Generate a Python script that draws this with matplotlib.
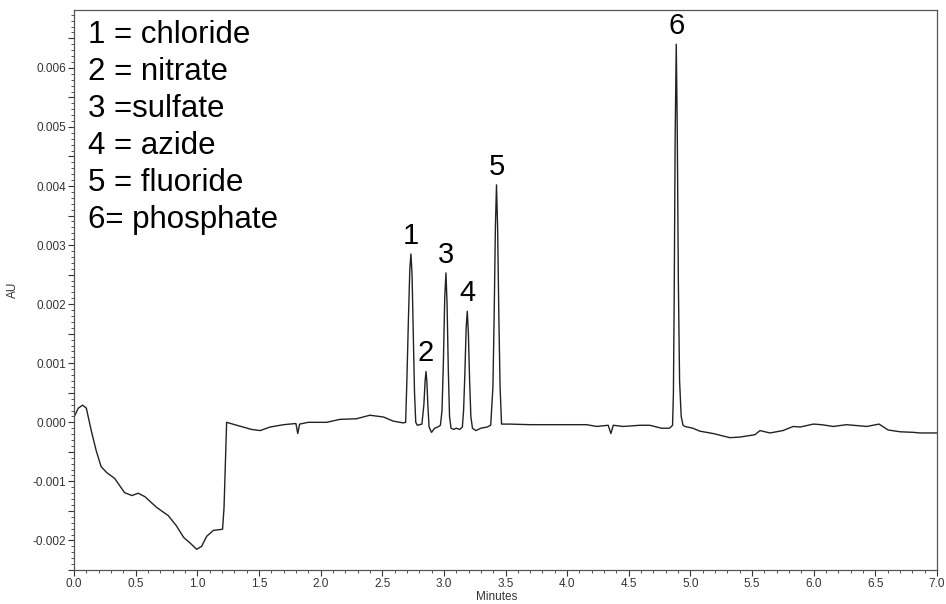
import matplotlib
matplotlib.use("Agg")
import matplotlib.pyplot as plt
from matplotlib.ticker import MultipleLocator, FuncFormatter

plt.rcParams['font.family'] = ['Liberation Sans', 'DejaVu Sans']

# chromatogram trace (minutes, AU)
time_min = [
    0.000, 0.035, 0.070, 0.100, 0.140, 0.180, 0.220, 0.265, 0.330, 0.370,
    0.410, 0.470, 0.520, 0.576, 0.670, 0.765, 0.830, 0.890, 0.940, 0.995,
    1.035, 1.076, 1.130, 1.205, 1.217, 1.238, 1.320, 1.440, 1.510, 1.590,
    1.700, 1.800, 1.815, 1.830, 1.900, 2.050, 2.157, 2.290, 2.400, 2.510,
    2.590, 2.670,
    # peak 1
    2.690, 2.700, 2.712, 2.724, 2.733, 2.742, 2.752, 2.762, 2.772, 2.785,
    # peak 2
    2.822, 2.838, 2.848, 2.855, 2.862, 2.870, 2.880, 2.900, 2.925, 2.950,
    # peak 3
    2.972, 2.985, 2.996, 3.007, 3.017, 3.026, 3.036, 3.046, 3.058, 3.080,
    3.100, 3.130,
    # peak 4
    3.150, 3.160, 3.170, 3.181, 3.190, 3.199, 3.209, 3.219, 3.232, 3.260,
    3.300, 3.350, 3.380,
    # peak 5
    3.398, 3.408, 3.418, 3.427, 3.436, 3.446, 3.456, 3.468,
    3.536, 3.700, 3.968, 4.158, 4.240, 4.333, 4.355, 4.374, 4.455, 4.590,
    4.670, 4.766, 4.830,
    # peak 6
    4.855, 4.862, 4.868, 4.876, 4.885, 4.893, 4.902, 4.912, 4.925, 4.940,
    4.955, 5.020, 5.077, 5.158, 5.185, 5.320, 5.400, 5.523, 5.564, 5.645,
    5.750, 5.834, 5.890, 5.996, 6.064, 6.158, 6.267, 6.430, 6.530, 6.604,
    6.700, 6.810, 6.860, 7.000,
]
absorbance = [
    0.00009, 0.00024, 0.00029, 0.00024, -0.00014, -0.00048, -0.00075, -0.00085, -0.00095, -0.00107,
    -0.00119, -0.00124, -0.00120, -0.00126, -0.00144, -0.00158, -0.00175, -0.00195, -0.00204, -0.00215,
    -0.00210, -0.00193, -0.00183, -0.00181, -0.00144, 0.00000, -0.00005, -0.00012, -0.00014, -0.00008,
    -0.00004, -0.00002, -0.00019, -0.00003, 0.00000, 0.00000, 0.00005, 0.00006, 0.00012, 0.00009,
    0.00002, -0.00001,
    0.00000, 0.00070, 0.00170, 0.00260, 0.00285, 0.00250, 0.00150, 0.00050, 0.00000, -0.00005,
    -0.00003, 0.00030, 0.00070, 0.00086, 0.00070, 0.00030, -0.00008, -0.00017, -0.00010, -0.00008,
    -0.00005, 0.00020, 0.00100, 0.00210, 0.00253, 0.00200, 0.00090, 0.00010, -0.00010, -0.00012,
    -0.00010, -0.00012,
    -0.00008, 0.00020, 0.00080, 0.00160, 0.00188, 0.00150, 0.00070, 0.00010, -0.00010, -0.00014,
    -0.00010, -0.00008, -0.00005,
    0.00060, 0.00180, 0.00330, 0.00402, 0.00330, 0.00180, 0.00060, -0.00003,
    -0.00003, -0.00004, -0.00004, -0.00004, -0.00007, -0.00005, -0.00019, -0.00005, -0.00007, -0.00005,
    -0.00005, -0.00010, -0.00010,
    -0.00005, 0.00050, 0.00200, 0.00480, 0.00640, 0.00500, 0.00240, 0.00070, 0.00010, -0.00005,
    -0.00007, -0.00010, -0.00015, -0.00018, -0.00019, -0.00026, -0.00025, -0.00021, -0.00014, -0.00018,
    -0.00014, -0.00007, -0.00008, -0.00003, -0.00004, -0.00007, -0.00004, -0.00007, -0.00003, -0.00013,
    -0.00016, -0.00017, -0.00018, -0.00018,
]

peak_ids = ['1', '2', '3', '4', '5', '6']
peak_times = [2.733, 2.855, 3.017, 3.190, 3.427, 4.885]
legend_lines = ['1 = chloride', '2 = nitrate', '3 =sulfate', '4 = azide',
                '5 = fluoride', '6= phosphate']

fig = plt.figure(figsize=(9.46, 6.04), dpi=100)
ax = fig.add_axes([74 / 946, 34 / 604, 863 / 946, 560 / 604])

ax.plot(time_min, absorbance, color='#222222', lw=1.0)

ax.set_xlim(0, 7.0)
ax.set_ylim(-0.0025, 0.00698)

ax.xaxis.set_major_locator(MultipleLocator(0.5))
ax.xaxis.set_minor_locator(MultipleLocator(0.1))
ax.xaxis.set_major_formatter(FuncFormatter(lambda v, p: '%.1f' % v))
ax.yaxis.set_major_locator(MultipleLocator(0.0005))
ax.yaxis.set_minor_locator(MultipleLocator(0.0001))


def yfmt(v, p):
    if abs(round(v / 0.001) * 0.001 - v) < 1e-9:
        return '%.3f' % v
    return ''


ax.yaxis.set_major_formatter(FuncFormatter(yfmt))
ax.tick_params(which='major', length=4, width=0.8, labelsize=8.5,
               labelcolor='#333333', color='#333333', pad=1.5)
ax.tick_params(which='minor', length=2, width=0.6, color='#333333')
for s in ax.spines.values():
    s.set_color('#555555')
    s.set_linewidth(0.9)

ax.set_xlabel('Minutes', fontsize=8.5, color='#333333')
ax.set_ylabel('AU', fontsize=8.5, color='#333333')
ax.xaxis.set_label_coords(0.49, -0.038)
ax.yaxis.set_label_coords(-0.064, 0.5)

# peak numbers just above each apex
for pid, pt in zip(peak_ids, peak_times):
    i = time_min.index(pt)
    ax.annotate(pid, (pt, absorbance[i]), xytext=(0, 3), textcoords='offset points',
                ha='center', va='bottom', fontsize=21)

# compound key in the upper left
for k, line in enumerate(legend_lines):
    ax.text(0.016, 0.955 - k * 0.066, line, transform=ax.transAxes,
            ha='left', va='center', fontsize=22.5)

fig.savefig('out.png', dpi=100)
